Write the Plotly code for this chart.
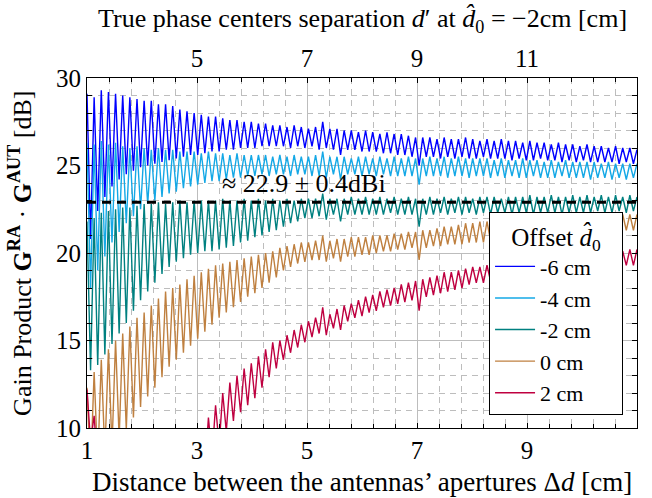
import numpy as np
import plotly.graph_objects as go

# ---------------- data ----------------
D_START, D_END, N_SAMPLES = 1.0, 11.0, 155   # distance between apertures [cm]
PHASE_SHIFT = 2.0                             # d' = Δd + 2 cm at d0 = -2 cm
MEAN_GAIN = 22.9                              # dBi, dashed reference level

offset_labels = ["-6 cm", "-4 cm", "-2 cm", "0 cm", "2 cm"]
offset_colors = ["#0000ff", "#14a8e6", "#008080", "#bf8040", "#bf0040"]

gain_m6 = [
    29.1, 20.8, 28.9, 22.4, 29.3, 23.2, 29.2, 23.8, 29.1, 24.2,
    29.0, 24.5, 28.9, 24.7, 28.8, 24.9, 28.7, 25.0, 28.7, 25.1,
    28.5, 25.2, 28.5, 25.3, 28.4, 25.4, 28.2, 25.5, 28.1, 25.6,
    28.0, 25.6, 27.9, 25.7, 27.8, 25.8, 27.8, 25.8, 27.7, 25.9,
    27.6, 25.9, 27.6, 26.0, 27.5, 26.0, 27.5, 26.0, 27.4, 26.1,
    27.4, 26.1, 27.3, 26.1, 27.3, 26.1, 27.2, 26.0, 27.3, 26.1,
    27.2, 26.0, 27.1, 26.1, 27.2, 25.9, 27.5, 26.0, 27.1, 25.9,
    27.1, 25.6, 27.0, 25.9, 27.0, 25.9, 26.9, 25.8, 27.0, 25.8,
    26.9, 25.8, 26.8, 25.7, 26.9, 25.7, 26.8, 25.6, 26.8, 25.6,
    26.7, 25.5, 26.6, 25.0, 26.6, 25.5, 26.6, 25.5, 26.5, 25.4,
    26.6, 25.5, 26.5, 25.4, 26.5, 25.5, 26.6, 25.4, 26.5, 25.4,
    26.4, 25.5, 26.5, 25.4, 26.4, 25.4, 26.5, 25.4, 26.4, 25.3,
    26.4, 25.4, 26.3, 25.3, 26.4, 25.3, 26.3, 25.4, 26.3, 25.3,
    26.2, 25.3, 26.3, 25.2, 26.2, 25.3, 26.2, 25.2, 26.1, 25.3,
    26.2, 25.2, 26.1, 25.2, 26.1, 25.2, 26.0, 25.2, 26.1, 25.1,
    26.0, 25.2, 26.0, 25.1, 25.9,
]

gain_m4 = [
    26.3, 18.0, 26.2, 19.0, 26.4, 19.8, 26.2, 20.6, 26.3, 21.2,
    26.1, 21.7, 26.0, 22.1, 26.1, 22.5, 26.0, 22.8, 25.9, 23.0,
    26.0, 23.2, 25.9, 23.4, 25.9, 23.5, 25.8, 23.7, 25.8, 23.8,
    25.8, 23.9, 25.7, 24.0, 25.8, 24.1, 25.7, 24.1, 25.7, 24.2,
    25.6, 24.3, 25.7, 24.3, 25.6, 24.4, 25.6, 24.4, 25.6, 24.5,
    25.6, 24.4, 25.5, 24.5, 25.6, 24.5, 25.5, 24.4, 25.6, 24.5,
    25.5, 24.5, 25.5, 24.4, 25.6, 24.4, 25.8, 24.3, 25.5, 24.5,
    25.5, 24.2, 25.5, 24.5, 25.4, 24.5, 25.5, 24.4, 25.5, 24.5,
    25.4, 24.4, 25.5, 24.5, 25.4, 24.4, 25.5, 24.4, 25.4, 24.4,
    25.5, 24.4, 25.4, 23.9, 25.4, 24.4, 25.5, 24.4, 25.4, 24.4,
    25.5, 24.3, 25.4, 24.4, 25.5, 24.4, 25.4, 24.3, 25.4, 24.4,
    25.4, 24.4, 25.4, 24.3, 25.3, 24.4, 25.4, 24.3, 25.3, 24.4,
    25.3, 24.3, 25.4, 24.3, 25.3, 24.4, 25.3, 24.3, 25.2, 24.3,
    25.3, 24.3, 25.2, 24.4, 25.3, 24.3, 25.2, 24.3, 25.2, 24.3,
    25.2, 24.2, 25.2, 24.3, 25.1, 24.3, 25.2, 24.2, 25.1, 24.3,
    25.1, 24.2, 25.1, 24.3, 25.1,
]

gain_m2 = [
    21.8, 13.3, 22.0, 13.6, 22.3, 14.2, 22.4, 14.8, 22.5, 15.4,
    22.6, 16.0, 22.6, 16.7, 22.7, 17.3, 22.8, 17.8, 22.8, 18.3,
    22.9, 18.8, 22.8, 19.2, 22.9, 19.5, 23.0, 19.7, 22.9, 19.9,
    23.0, 20.0, 23.0, 20.1, 23.0, 20.1, 23.0, 20.2, 23.1, 20.3,
    23.0, 20.4, 23.0, 20.6, 23.1, 20.7, 23.0, 20.9, 23.1, 21.0,
    23.0, 21.2, 23.1, 21.3, 23.0, 21.5, 23.1, 21.7, 23.0, 21.8,
    23.1, 22.0, 23.1, 22.0, 23.1, 22.1, 23.4, 21.9, 23.1, 22.2,
    23.1, 21.8, 23.1, 22.2, 23.2, 22.2, 23.1, 22.2, 23.2, 22.2,
    23.1, 22.2, 23.2, 22.2, 23.1, 22.3, 23.2, 22.2, 23.1, 22.2,
    23.2, 22.2, 23.1, 21.5, 23.1, 22.2, 23.2, 22.2, 23.1, 22.3,
    23.2, 22.2, 23.1, 22.3, 23.2, 22.2, 23.2, 22.3, 23.1, 22.2,
    23.2, 22.3, 23.2, 22.2, 23.2, 22.3, 23.1, 22.3, 23.2, 22.2,
    23.2, 22.3, 23.2, 22.3, 23.3, 22.2, 23.2, 22.3, 23.2, 22.3,
    23.3, 22.3, 23.2, 22.2, 23.2, 22.3, 23.3, 22.3, 23.2, 22.3,
    23.3, 22.3, 23.2, 22.4, 23.3, 22.3, 23.2, 22.3, 23.3, 22.4,
    23.2, 22.3, 23.3, 22.4, 23.2,
]

gain_0 = [
    12.3, 7.5, 13.2, 8.0, 13.9, 8.5, 14.5, 8.9, 15.0, 9.4,
    15.4, 9.9, 15.8, 10.6, 16.3, 11.2, 16.6, 11.8, 17.0, 12.3,
    17.4, 12.9, 17.8, 13.5, 18.0, 13.9, 18.2, 14.3, 18.5, 14.7,
    18.7, 15.1, 18.9, 15.5, 19.1, 15.9, 19.3, 16.3, 19.4, 16.6,
    19.5, 16.9, 19.6, 17.2, 19.7, 17.5, 19.8, 17.7, 19.9, 18.0,
    20.0, 18.3, 20.1, 18.6, 20.3, 19.0, 20.4, 19.2, 20.5, 19.4,
    20.6, 19.5, 20.6, 19.6, 20.7, 19.6, 21.0, 19.5, 20.7, 19.7,
    20.8, 19.5, 20.8, 19.8, 20.9, 19.8, 20.9, 19.9, 20.9, 19.9,
    21.0, 20.0, 21.0, 20.1, 21.0, 20.1, 21.1, 20.2, 21.1, 20.2,
    21.2, 20.3, 21.2, 19.6, 21.3, 20.3, 21.3, 20.4, 21.4, 20.4,
    21.5, 20.5, 21.5, 20.5, 21.6, 20.5, 21.7, 20.6, 21.7, 20.6,
    21.8, 20.6, 21.8, 20.7, 21.8, 20.7, 21.8, 20.8, 21.9, 20.8,
    21.9, 20.9, 21.9, 20.9, 21.9, 20.9, 22.0, 21.0, 22.0, 21.0,
    22.0, 21.0, 22.0, 21.1, 22.1, 21.1, 22.1, 21.1, 22.1, 21.1,
    22.1, 21.2, 22.2, 21.2, 22.1, 21.2, 22.2, 21.2, 22.2, 21.3,
    22.2, 21.3, 22.2, 21.3, 22.2,
]

gain_p2 = [
    12.2, 9.2, 10.7, 7.8, 9.0, 6.5, 8.0, 5.5, 7.2, 5.0,
    6.8, 4.8, 6.6, 4.6, 6.6, 4.6, 6.7, 4.7, 6.9, 4.9,
    7.2, 5.1, 7.5, 5.4, 7.8, 5.7, 8.2, 6.0, 8.7, 6.4,
    9.3, 6.9, 9.9, 7.5, 10.6, 8.3, 11.3, 9.0, 12.0, 9.8,
    12.6, 10.4, 13.0, 10.9, 13.4, 11.3, 13.7, 11.7, 14.1, 12.3,
    14.5, 12.9, 14.9, 13.4, 15.0, 13.9, 15.3, 14.3, 15.6, 14.6,
    15.9, 14.9, 16.1, 15.2, 16.3, 15.4, 16.9, 15.3, 16.5, 15.7,
    16.8, 15.6, 17.0, 16.1, 17.1, 16.3, 17.3, 16.4, 17.5, 16.6,
    17.6, 16.7, 17.8, 16.9, 17.9, 17.0, 18.0, 17.1, 18.2, 17.2,
    18.3, 17.3, 18.4, 16.7, 18.5, 17.5, 18.6, 17.6, 18.7, 17.7,
    18.9, 17.8, 18.9, 17.9, 19.0, 18.0, 19.1, 18.2, 19.2, 18.3,
    19.2, 18.3, 19.3, 18.4, 19.4, 18.4, 19.4, 18.5, 19.5, 18.5,
    19.5, 18.6, 19.6, 18.6, 19.6, 18.7, 19.7, 18.7, 19.7, 18.8,
    19.8, 18.8, 19.8, 18.9, 19.8, 18.9, 19.9, 19.0, 19.9, 19.0,
    20.0, 19.1, 20.0, 19.1, 20.0, 19.2, 20.1, 19.2, 20.1, 19.2,
    20.1, 19.3, 20.2, 19.3, 20.2,
]

x_bottom_ticks = [1, 3, 5, 7, 9]
x_top_ticks = [5, 7, 9, 11]
y_ticks = [10, 15, 20, 25, 30]
X_RANGE = [1, 11]
Y_RANGE = [10, 30]

series = [gain_m6, gain_m4, gain_m2, gain_0, gain_p2]
for s in series:
    assert len(s) == N_SAMPLES, len(s)

dist = np.linspace(D_START, D_END, N_SAMPLES)

# ---------------- figure ----------------
FONT = "Liberation Serif"
GRID = "#bdbdbd"
TICK_SIZE = 25
TITLE_SIZE = 26
LEGEND_SIZE = 22
PAD = "&nbsp;" * 3
fig = go.Figure()

for lab, col, vals in zip(offset_labels, offset_colors, series):
    fig.add_trace(go.Scatter(x=dist, y=vals, mode="lines", name=lab,
                             line=dict(color=col, width=1.4), hoverinfo="skip"))

# dummy trace to activate the top axis (d' = Δd + shift)
fig.add_trace(go.Scatter(x=[X_RANGE[0] + PHASE_SHIFT, X_RANGE[1] + PHASE_SHIFT],
                         y=[None, None], xaxis="x2", showlegend=False,
                         hoverinfo="skip", mode="lines"))

fig.add_hline(y=MEAN_GAIN, line=dict(color="black", width=3, dash="9px,6px"))

fig.add_annotation(x=4.95, y=24.0, xref="x", yref="y",
                   text="≈ 22.9 ± 0.4dBi", showarrow=False,
                   font=dict(family=FONT, size=TITLE_SIZE, color="black"))

axis_common = dict(ticks="inside", ticklen=5, tickcolor="black", tickwidth=1,
                   showline=True, linecolor="black", linewidth=1.2,
                   zeroline=False,
                   tickfont=dict(family=FONT, size=TICK_SIZE, color="black"))

fig.update_layout(
    width=652, height=498,
    margin=dict(l=87, r=15, t=78, b=70),
    plot_bgcolor="white", paper_bgcolor="white",
    font=dict(family=FONT, size=TICK_SIZE, color="black"),
    xaxis=dict(range=X_RANGE, tickvals=x_bottom_ticks, mirror=True,
               showgrid=True, gridcolor=GRID, gridwidth=1,
               minor=dict(tick0=1, dtick=0.4, ticks="inside", ticklen=4,
                          tickcolor="black", showgrid=True, gridcolor=GRID,
                          griddash="6px,5px", gridwidth=1),
               ticklabelstandoff=0,
               **axis_common),
    xaxis2=dict(range=[X_RANGE[0] + PHASE_SHIFT, X_RANGE[1] + PHASE_SHIFT],
                tickvals=x_top_ticks, overlaying="x", side="top", showgrid=False,
                minor=dict(tick0=3, dtick=0.4, ticks="inside", ticklen=4,
                           tickcolor="black", showgrid=False),
                **axis_common),
    yaxis=dict(range=Y_RANGE, tickvals=y_ticks, mirror="allticks",
               showgrid=True, gridcolor=GRID, gridwidth=1,
               minor=dict(tick0=10, dtick=1, ticks="inside", ticklen=4,
                          tickcolor="black", showgrid=True, gridcolor=GRID,
                          griddash="6px,5px", gridwidth=1),
               **axis_common),
    legend=dict(x=0.731, y=0.617, xanchor="left", yanchor="top",
                bordercolor="black", borderwidth=1, bgcolor="white",
                title=dict(text=PAD + "Offset <i>d̂</i><sub>0</sub>" + PAD,
                           side="top center",
                           font=dict(family=FONT, size=TICK_SIZE)),
                font=dict(family=FONT, size=LEGEND_SIZE, color="black"),
                itemwidth=40, tracegroupgap=0),
    annotations=list(fig.layout.annotations) + [
        dict(text="True phase centers separation <i>d</i>′ at <i>d̂</i><sub>0</sub> = −2cm [cm]",
             xref="paper", yref="paper", x=0.5, y=1.163, showarrow=False,
             xanchor="center", yanchor="middle", font=dict(family=FONT, size=TITLE_SIZE)),
        dict(text="Distance between the antennas’ apertures Δ<i>d</i> [cm]",
             xref="paper", yref="paper", x=0.5, y=-0.154, showarrow=False,
             xanchor="center", yanchor="middle", font=dict(family=FONT, size=27)),
        dict(text="Gain Product <b>G<sup>RA</sup></b> · <b>G<sup>AUT</sup></b> [dB]",
             xref="paper", yref="paper", x=-0.122, y=0.5, showarrow=False,
             textangle=-90, xanchor="center", yanchor="middle",
             font=dict(family=FONT, size=26)),
    ],
)

fig.write_html("out.html")
